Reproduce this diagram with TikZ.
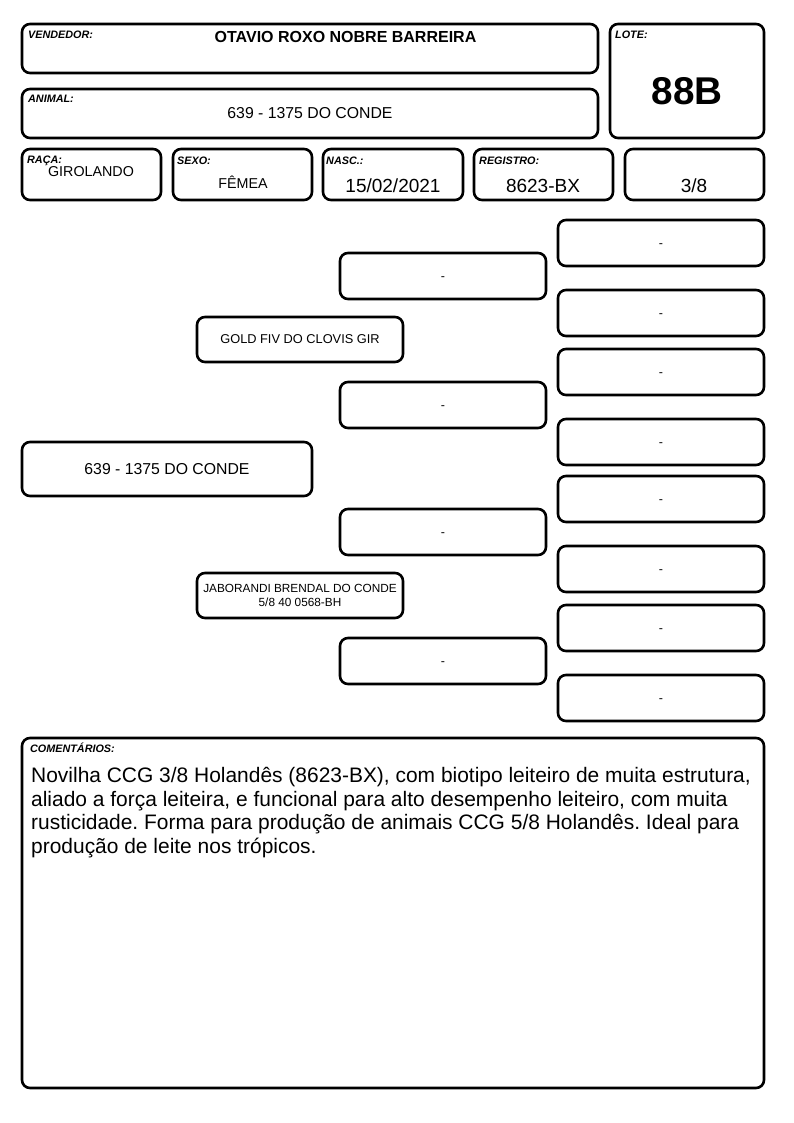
\documentclass[tikz,border=0pt]{standalone}
\usepackage{fontspec}
\setmainfont{Liberation Sans}
\newcommand{\fs}[1]{\fontsize{#1}{#1}\selectfont}
\begin{document}
\frenchspacing
\begin{tikzpicture}[x=1pt,y=-1pt,
  box/.style={draw, line width=2.6pt, rounded corners=8pt, inner sep=0pt, outer sep=0pt, align=center, anchor=north west},
  lbl/.style={font=\fs{10.8}\bfseries\itshape, anchor=base west, inner sep=0pt},
  val/.style={font=\fs{14.3}, anchor=base, inner sep=0pt},
  big/.style={font=\fs{19}, anchor=base, inner sep=0pt},
  ped/.style={box, font=\fs{12.5}, minimum width=206pt, minimum height=46pt},
  emptybox/.style={ped, text height=1.1em, text depth=0.18em}]
\useasboundingbox (0,0) rectangle (794,1123);
% header
\node[box, minimum width=576pt, minimum height=49pt] (vend) at (22,24) {};
\node[box, minimum width=154pt, minimum height=114pt] (lote) at (610,24) {};
\node[box, minimum width=576pt, minimum height=49pt] (animal) at (22,89) {};
\node[box, minimum width=139pt, minimum height=51pt] (raca) at (22,149) {};
\node[box, minimum width=139pt, minimum height=51pt] (sexo) at (173,149) {};
\node[box, minimum width=140pt, minimum height=51pt] (nasc) at (323,149) {};
\node[box, minimum width=139pt, minimum height=51pt] (reg) at (474,149) {};
\node[box, minimum width=139pt, minimum height=51pt] (frac) at (625,149) {};
\node[lbl] (vendl) at (28,39) {VENDEDOR:};
\node[font=\fs{16}\bfseries, anchor=base, inner sep=0pt] (vendv) at (345.5,42.5) {OTAVIO ROXO NOBRE BARREIRA};
\node[lbl] (lotel) at (615,39) {LOTE:};
\node[font=\fs{38.7}\bfseries, anchor=base, inner sep=0pt] (lotev) at (687,105) {88B};
\node[lbl] (animall) at (28,103) {ANIMAL:};
\node[font=\fs{15.8}, anchor=base, inner sep=0pt] (animalv) at (310,118.5) {639 - 1375 DO CONDE};
\node[lbl] (racal) at (27,164) {RAÇA:};
\node[val] (racav) at (91,177) {GIROLANDO};
\node[lbl] (sexol) at (177,165) {SEXO:};
\node[val] (sexov) at (243,189) {FÊMEA};
\node[lbl] (nascl) at (326,165) {NASC.:};
\node[big] (nascv) at (393,193) {15/02/2021};
\node[lbl] (regl) at (479,165) {REGISTRO:};
\node[big] (regv) at (543,193) {8623-BX};
\node[big] (fracv) at (694,193) {3/8};
% pedigree
\node[box, font=\fs{15.8}, minimum width=290pt, minimum height=54pt, text height=1em, text depth=0em] (main) at (22,442) {639 - 1375 DO CONDE};
\node[ped, font=\fs{12.8}, minimum height=45pt] (sire) at (197,317) {GOLD FIV DO CLOVIS GIR};
\node[ped, font=\fs{11.8}, minimum height=45pt, text depth=0pt] (dam) at (197,573) {JABORANDI BRENDAL DO CONDE\\[1.5pt]5/8 40 0568-BH};
\node[emptybox] (gp1) at (340,253) {-};
\node[emptybox] (gp2) at (340,382) {-};
\node[emptybox] (gp3) at (340,509) {-};
\node[emptybox] (gp4) at (340,638) {-};
\node[emptybox] (ggp1) at (558,220) {-};
\node[emptybox] (ggp2) at (558,290) {-};
\node[emptybox] (ggp3) at (558,349) {-};
\node[emptybox] (ggp4) at (558,419) {-};
\node[emptybox] (ggp5) at (558,476) {-};
\node[emptybox] (ggp6) at (558,546) {-};
\node[emptybox] (ggp7) at (558,605) {-};
\node[emptybox] (ggp8) at (558,675) {-};
% comments
\node[box, minimum width=742pt, minimum height=350pt] (com) at (22,738) {};
\node[lbl] (coml) at (30,752) {COMENTÁRIOS:};
\node[font=\fontsize{20.95}{23.6}\selectfont, anchor=north west, align=left, inner sep=0pt] (comv) at (31,767) {Novilha CCG 3/8 Holandês (8623-BX), com biotipo leiteiro de muita estrutura,\\aliado a força leiteira, e funcional para alto desempenho leiteiro, com muita\\rusticidade. Forma para produção de animais CCG 5/8 Holandês. Ideal para\\produção de leite nos trópicos.};
\end{tikzpicture}
\end{document}
